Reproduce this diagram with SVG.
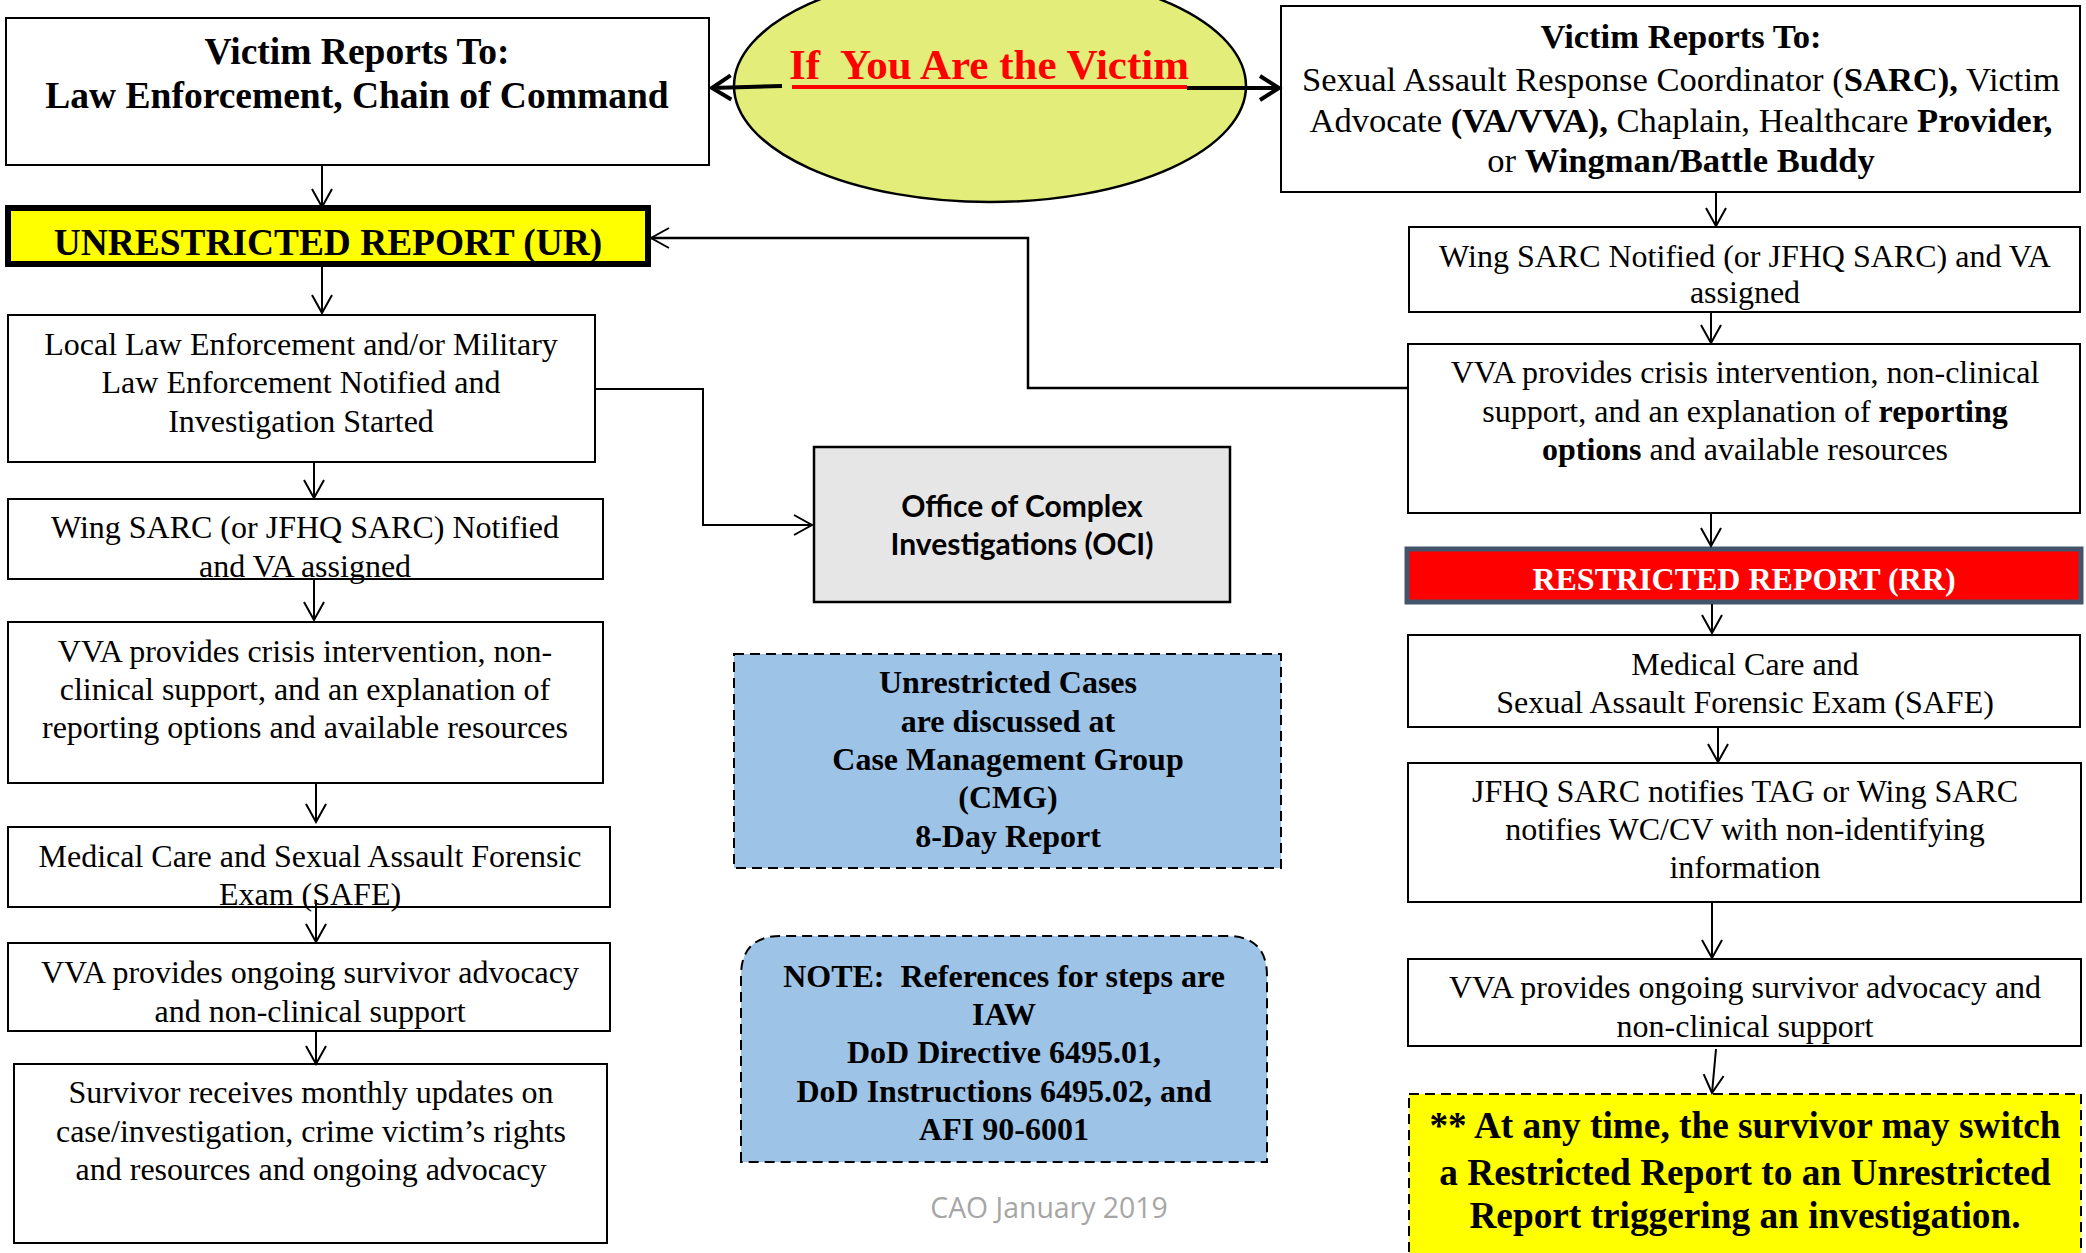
<svg xmlns="http://www.w3.org/2000/svg" width="2086" height="1253" viewBox="0 0 2086 1253">
<style>
.box{fill:#fff;stroke:#000;stroke-width:2}
.t{font-family:"Liberation Serif","Times New Roman",serif;font-size:32px;fill:#000;text-anchor:middle}
.b{font-weight:bold}
.c{fill:none;stroke:#000;stroke-width:2}
.blue{fill:#9DC3E6;stroke:#000;stroke-width:2;stroke-dasharray:10 6}
</style>
<defs>
<marker id="ah" markerUnits="userSpaceOnUse" markerWidth="22" markerHeight="24" viewBox="0 0 22 24" refX="20" refY="12" orient="auto">
<path d="M2,2 L20,12 L2,22" fill="none" stroke="#000" stroke-width="2"/>
</marker>
<marker id="ahb" markerUnits="userSpaceOnUse" markerWidth="26" markerHeight="30" viewBox="0 0 26 30" refX="22" refY="15" orient="auto">
<path d="M3,3 L22,15 L3,27" fill="none" stroke="#000" stroke-width="4"/>
</marker>
</defs>

<g id="victim">
<ellipse cx="990" cy="86" rx="256" ry="116" fill="#E2EE79" stroke="#000" stroke-width="2.5"/>
<text x="989" y="79" class="t b" style="font-size:43px;fill:#FF0000" xml:space="preserve">If  You Are the Victim</text>
<line x1="792" y1="87" x2="1187" y2="87" stroke="#FF0000" stroke-width="4"/>
</g>

<g id="left-report">
<rect x="6" y="18" width="703" height="147" class="box"/>
<text x="357" y="64" class="t b" style="font-size:37.5px">Victim Reports To:</text>
<text x="357" y="108" class="t b" style="font-size:37.5px">Law Enforcement, Chain of Command</text>
</g>

<g id="right-report">
<rect x="1281" y="6" width="799" height="186" class="box"/>
<text x="1681" y="48" class="t b" style="font-size:34.6px">Victim Reports To:</text>
<text x="1681" y="91" class="t" style="font-size:34.6px">Sexual Assault Response Coordinator (<tspan class="b">SARC),</tspan> Victim</text>
<text x="1681" y="132" class="t" style="font-size:34.6px">Advocate <tspan class="b">(VA/VVA),</tspan> Chaplain, Healthcare <tspan class="b">Provider,</tspan></text>
<text x="1681" y="172" class="t" style="font-size:34.6px">or <tspan class="b">Wingman/Battle Buddy</tspan></text>
</g>

<g id="ur">
<rect x="8" y="208" width="640" height="56" fill="#FFFF00" stroke="#000" stroke-width="6"/>
<text x="328" y="255" class="t b" style="font-size:37.4px">UNRESTRICTED REPORT (UR)</text>
</g>

<g id="local-law">
<rect x="8" y="315" width="587" height="147" class="box"/>
<text x="301" y="355" class="t">Local Law Enforcement and/or Military</text>
<text x="301" y="393" class="t">Law Enforcement Notified and</text>
<text x="301" y="432" class="t">Investigation Started</text>
</g>

<g id="oci">
<rect x="814" y="447" width="416" height="155" fill="#E6E6E6" stroke="#000" stroke-width="2.5"/>
<text x="1022" y="517" style="font-family:Lato,'Liberation Sans',sans-serif;font-weight:bold;font-size:30px;text-anchor:middle">Office of Complex</text>
<text x="1022" y="555" style="font-family:Lato,'Liberation Sans',sans-serif;font-weight:bold;font-size:30px;text-anchor:middle">Investigations (OCI)</text>
</g>

<g id="wing-left">
<rect x="8" y="499" width="595" height="80" class="box"/>
<text x="305" y="538" class="t">Wing SARC (or JFHQ SARC) Notified</text>
<text x="305" y="577" class="t">and VA assigned</text>
</g>

<g id="vva-left">
<rect x="8" y="622" width="595" height="161" class="box"/>
<text x="305" y="662" class="t">VVA provides crisis intervention, non-</text>
<text x="305" y="700" class="t">clinical support, and an explanation of</text>
<text x="305" y="738" class="t">reporting options and available resources</text>
</g>

<g id="medical-left">
<rect x="8" y="827" width="602" height="80" class="box"/>
<text x="310" y="867" class="t">Medical Care and Sexual Assault Forensic</text>
<text x="310" y="905" class="t">Exam (SAFE)</text>
</g>

<g id="ongoing-left">
<rect x="8" y="943" width="602" height="88" class="box"/>
<text x="310" y="983" class="t">VVA provides ongoing survivor advocacy</text>
<text x="310" y="1022" class="t">and non-clinical support</text>
</g>

<g id="survivor">
<rect x="14" y="1064" width="593" height="179" class="box"/>
<text x="311" y="1103" class="t">Survivor receives monthly updates on</text>
<text x="311" y="1142" class="t">case/investigation, crime victim’s rights</text>
<text x="311" y="1180" class="t">and resources and ongoing advocacy</text>
</g>

<g id="cmg">
<rect x="734" y="654" width="547" height="214" class="blue"/>
<text x="1008" y="693" class="t b">Unrestricted Cases</text>
<text x="1008" y="732" class="t b">are discussed at</text>
<text x="1008" y="770" class="t b">Case Management Group</text>
<text x="1008" y="808" class="t b">(CMG)</text>
<text x="1008" y="847" class="t b">8-Day Report</text>
</g>

<g id="note">
<path d="M741,1162 L741,976 Q741,936 781,936 L1227,936 Q1267,936 1267,976 L1267,1162 Z" class="blue"/>
<text x="1004" y="987" class="t b" xml:space="preserve">NOTE:  References for steps are</text>
<text x="1004" y="1025" class="t b">IAW</text>
<text x="1004" y="1063" class="t b">DoD Directive 6495.01,</text>
<text x="1004" y="1102" class="t b">DoD Instructions 6495.02, and</text>
<text x="1004" y="1140" class="t b">AFI 90-6001</text>
</g>

<g id="footer">
<text x="1049" y="1218" style="font-family:'Open Sans','Liberation Sans',sans-serif;font-size:28.4px;fill:#A6A6A6;text-anchor:middle">CAO January 2019</text>
</g>

<g id="wing-right">
<rect x="1409" y="227" width="671" height="85" class="box"/>
<text x="1745" y="267" class="t">Wing SARC Notified (or JFHQ SARC) and VA</text>
<text x="1745" y="303" class="t">assigned</text>
</g>

<g id="vva-right">
<rect x="1408" y="344" width="672" height="169" class="box"/>
<text x="1745" y="383" class="t">VVA provides crisis intervention, non-clinical</text>
<text x="1745" y="422" class="t">support, and an explanation of <tspan class="b">reporting</tspan></text>
<text x="1745" y="460" class="t"><tspan class="b">options</tspan> and available resources</text>
</g>

<g id="rr">
<rect x="1407" y="549" width="674" height="53" fill="#FF0000" stroke="#44546A" stroke-width="5"/>
<text x="1744" y="590" class="t b" style="font-size:32px;fill:#fff">RESTRICTED REPORT (RR)</text>
</g>

<g id="medical-right">
<rect x="1408" y="635" width="672" height="92" class="box"/>
<text x="1745" y="675" class="t">Medical Care and</text>
<text x="1745" y="713" class="t">Sexual Assault Forensic Exam (SAFE)</text>
</g>

<g id="jfhq">
<rect x="1408" y="763" width="673" height="139" class="box"/>
<text x="1745" y="802" class="t">JFHQ SARC notifies TAG or Wing SARC</text>
<text x="1745" y="840" class="t">notifies WC/CV with non-identifying</text>
<text x="1745" y="878" class="t">information</text>
</g>

<g id="ongoing-right">
<rect x="1408" y="959" width="673" height="87" class="box"/>
<text x="1745" y="998" class="t">VVA provides ongoing survivor advocacy and</text>
<text x="1745" y="1037" class="t">non-clinical support</text>
</g>

<g id="switch-note">
<rect x="1409" y="1094" width="672" height="175" fill="#FFFF00" stroke="#000" stroke-width="2" stroke-dasharray="10 6"/>
<text x="1745" y="1138" class="t b" style="font-size:37.3px">** At any time, the survivor may switch</text>
<text x="1745" y="1185" class="t b" style="font-size:37.3px">a Restricted Report to an Unrestricted</text>
<text x="1745" y="1228" class="t b" style="font-size:37.3px">Report triggering an investigation.</text>
</g>

<g id="connectors">
<line x1="782" y1="86" x2="712" y2="88" class="c" style="stroke-width:4" marker-end="url(#ahb)"/>
<line x1="1187" y1="88" x2="1279" y2="88" class="c" style="stroke-width:4" marker-end="url(#ahb)"/>
<line x1="322" y1="165" x2="322" y2="207" class="c" marker-end="url(#ah)"/>
<line x1="322" y1="265" x2="322" y2="313" class="c" marker-end="url(#ah)"/>
<polyline points="595,389 703,389 703,525 812,525" class="c" marker-end="url(#ah)"/>
<line x1="314" y1="462" x2="314" y2="498" class="c" marker-end="url(#ah)"/>
<line x1="314" y1="579" x2="314" y2="620" class="c" marker-end="url(#ah)"/>
<line x1="316" y1="783" x2="316" y2="822" class="c" marker-end="url(#ah)"/>
<line x1="316" y1="900" x2="316" y2="942" class="c" marker-end="url(#ah)"/>
<line x1="316" y1="1031" x2="316" y2="1064" class="c" marker-end="url(#ah)"/>
<polyline points="1408,388 1028,388 1028,238 651,238" class="c" style="stroke-width:2.5" marker-end="url(#ah)"/>
<line x1="1716" y1="192" x2="1716" y2="226" class="c" marker-end="url(#ah)"/>
<line x1="1711" y1="312" x2="1711" y2="343" class="c" marker-end="url(#ah)"/>
<line x1="1711" y1="513" x2="1711" y2="546" class="c" marker-end="url(#ah)"/>
<line x1="1712" y1="604" x2="1712" y2="633" class="c" marker-end="url(#ah)"/>
<line x1="1718" y1="727" x2="1718" y2="762" class="c" marker-end="url(#ah)"/>
<line x1="1712" y1="902" x2="1712" y2="958" class="c" marker-end="url(#ah)"/>
<line x1="1716" y1="1049" x2="1712" y2="1093" class="c" marker-end="url(#ah)"/>
</g>
</svg>
